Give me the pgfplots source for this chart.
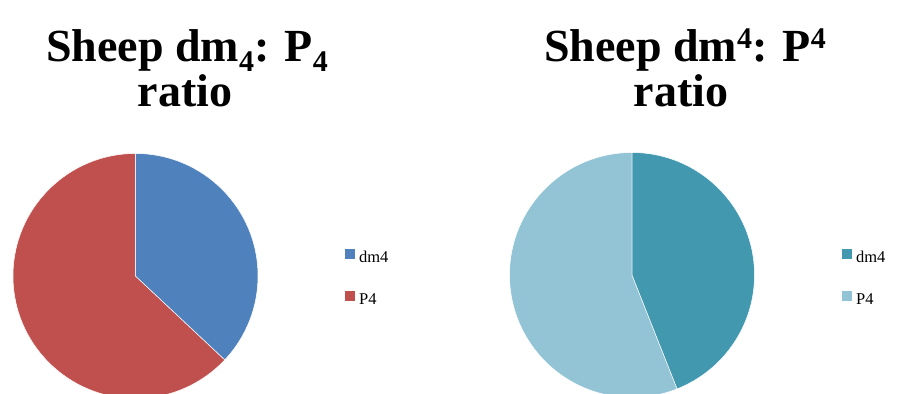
\documentclass[border=0pt]{standalone}
\usepackage{pgfplots}
\pgfplotsset{compat=1.18}
\usepackage{pgfplotstable}
\usepackage{fontspec}
\setmainfont{Liberation Serif}

\definecolor{pieblue}{HTML}{4F81BD}
\definecolor{piered}{HTML}{C0504D}
\definecolor{pieteal}{HTML}{4298AF}
\definecolor{pielight}{HTML}{93C4D5}

\pgfplotstableread{
part value
dm4 37
P4 63
}\sheepA
\pgfplotstableread{
part value
dm4 44
P4 56
}\sheepB

\newcommand\mysub[1]{\raisebox{-10bp}{\fontsize{30bp}{30bp}\selectfont #1}}
\newcommand\mysup[1]{\raisebox{13bp}{\fontsize{30bp}{30bp}\selectfont #1}}

\pgfplotsset{
  piestyle/.style={
    hide axis, scale only axis,
    x=122.5bp, y=122.5bp,
    xmin=-1.1, xmax=1.1, ymin=-1.1, ymax=1.1,
    clip=false, anchor=center,
    legend cell align=left,
    legend style={draw=none, fill=none, inner sep=0pt, anchor=west,
      font=\fontsize{16.5bp}{20bp}\selectfont,
      row sep=25bp, nodes={inner sep=2bp},
      /tikz/every odd column/.append style={column sep=2bp}},
  },
  sqlegend/.style={legend image code/.code={\fill[##1, draw=none] (0bp,-1.5bp) rectangle (10bp,8.5bp);}},
}

\begin{document}
\begin{tikzpicture}
\useasboundingbox (0,0) rectangle (906bp,394bp);
\clip (0,0) rectangle (906bp,394bp);

\pgfplotstablegetelem{0}{value}\of\sheepA \let\aOne\pgfplotsretval
\pgfplotstablegetelem{1}{value}\of\sheepA \let\aTwo\pgfplotsretval
\pgfmathsetmacro\aEnd{90-360*\aOne/(\aOne+\aTwo)}
\pgfmathsetmacro\aBack{360+\aEnd}
\pgfplotstablegetelem{0}{value}\of\sheepB \let\bOne\pgfplotsretval
\pgfplotstablegetelem{1}{value}\of\sheepB \let\bTwo\pgfplotsretval
\pgfmathsetmacro\bEnd{90-360*\bOne/(\bOne+\bTwo)}
\pgfmathsetmacro\bBack{360+\bEnd}

\begin{axis}[piestyle, at={(135.5bp,118bp)},
  legend style={at={(1.277,0.490)}}]
  \addlegendimage{sqlegend, fill=pieblue}
  \addlegendentry{dm4}
  \addlegendimage{sqlegend, fill=piered}
  \addlegendentry{P4}
  \fill[piered, draw=white, line width=0.5bp] (axis cs:0,0) -- (axis cs:0,1)
    arc[start angle=90, end angle=\aBack, radius=122.5bp] -- cycle;
  \fill[pieblue, draw=white, line width=0.5bp] (axis cs:0,0) -- (axis cs:0,1)
    arc[start angle=90, end angle=\aEnd, radius=122.5bp] -- cycle;
\end{axis}

\begin{axis}[piestyle, at={(632bp,119bp)},
  legend style={at={(1.279,0.486)}}]
  \addlegendimage{sqlegend, fill=pieteal}
  \addlegendentry{dm4}
  \addlegendimage{sqlegend, fill=pielight}
  \addlegendentry{P4}
  \fill[pielight, draw=white, line width=0.5bp] (axis cs:0,0) -- (axis cs:0,1)
    arc[start angle=90, end angle=\bBack, radius=122.5bp] -- cycle;
  \fill[pieteal, draw=white, line width=0.5bp] (axis cs:0,0) -- (axis cs:0,1)
    arc[start angle=90, end angle=\bEnd, radius=122.5bp] -- cycle;
\end{axis}

\begin{scope}[every node/.style={anchor=base, font=\fontsize{46bp}{46bp}\selectfont\bfseries, inner sep=0pt}]
\node at (187bp,332bp) {Sheep dm\mysub{4}: P\mysub{4}};
\node at (185bp,287bp) {ratio};
\node at (685bp,332bp) {Sheep dm\mysup{4}: P\mysup{4}};
\node at (681bp,287bp) {ratio};
\end{scope}
\end{tikzpicture}
\end{document}
